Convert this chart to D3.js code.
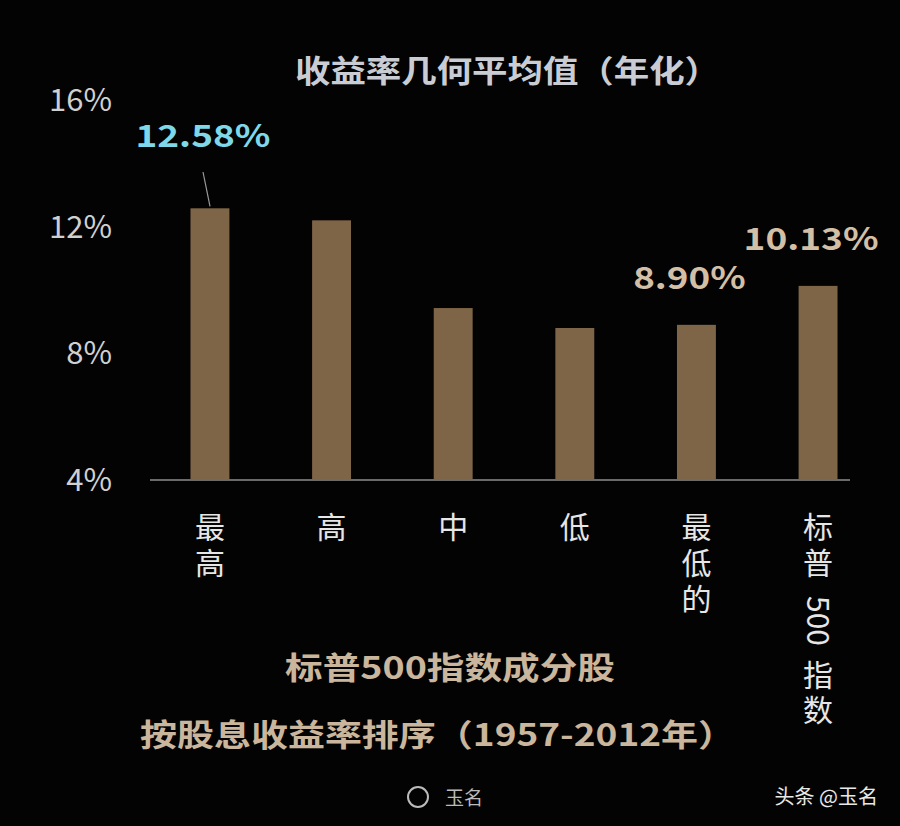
<!DOCTYPE html>
<html><head><meta charset="utf-8">
<script src="https://cdn.jsdelivr.net/npm/d3@7"></script>
<style>body{margin:0;background:#030303;}svg{display:block;}</style>
</head><body>
<svg id="chart" width="900" height="826"></svg>
<script>
var categories = ['最高', '高', '中', '低', '最低的', '标普500指数'];
var values = [12.58, 12.2, 9.43, 8.8, 8.90, 10.13];
var tickValues = [4, 8, 12, 16];
var labels = [{i: 0, text: '12.58%', color: '#7fd8ea'}, {i: 4, text: '8.90%', color: '#d2bfa6'}, {i: 5, text: '10.13%', color: '#d2bfa6'}];

var font = '"Noto Sans CJK SC", "Noto Sans", sans-serif';
var svg = d3.select('#chart');

var x = d3.scaleBand().domain(categories).range([154, 874]).paddingInner(0.68).paddingOuter(0.3);
var y = d3.scaleLinear().domain([4, 16]).range([480, 100]);

function bold(t, x0, y0, w, col) {
  return svg.append('text').attr('x', x0).attr('y', y0)
    .attr('font-family', font).attr('font-weight', 'bold').attr('font-size', 31)
    .attr('textLength', w).attr('lengthAdjust', 'spacingAndGlyphs')
    .attr('fill', col).text(t);
}

bold('收益率几何平均值（年化）', 295, 82, 425, '#c9cdd3');

svg.selectAll('.tick-label').data(tickValues).enter().append('text')
  .attr('x', 112).attr('y', function(d) { return y(d) + 11; })
  .attr('text-anchor', 'end').attr('font-family', font).attr('font-size', 31)
  .attr('fill', '#d0d0d0').text(function(d) { return d + '%'; });

svg.selectAll('.bar').data(values).enter().append('rect')
  .attr('x', function(d, i) { return x(categories[i]); })
  .attr('y', function(d) { return y(d); })
  .attr('width', x.bandwidth())
  .attr('height', function(d) { return y(4) - y(d); })
  .attr('fill', '#7f6547');

svg.append('line').attr('x1', 150).attr('x2', 850).attr('y1', y(4)).attr('y2', y(4))
  .attr('stroke', '#6a6a6a').attr('stroke-width', 2);

categories.forEach(function(c, i) {
  var cx = x(c) + x.bandwidth() / 2;
  var g = svg.append('g').attr('font-family', font).attr('font-size', 30).attr('fill', '#e6e6e6')
    .attr('text-anchor', 'middle');
  if (c === '标普500指数') {
    g.append('text').attr('x', cx).attr('y', 538).text('标');
    g.append('text').attr('x', cx).attr('y', 574).text('普');
    g.append('text').attr('text-anchor', 'start')
      .attr('transform', 'translate(' + (cx - 11) + ',596) rotate(90)').text('500');
    g.append('text').attr('x', cx).attr('y', 686).text('指');
    g.append('text').attr('x', cx).attr('y', 721).text('数');
  } else {
    c.split('').forEach(function(ch, j) {
      g.append('text').attr('x', cx).attr('y', 538 + j * 36).text(ch);
    });
  }
});

labels.forEach(function(l) {
  var cx = x(categories[l.i]) + x.bandwidth() / 2;
  var w = l.text.length * 22.5;
  bold(l.text, cx - 7 - w / 2, y(values[l.i]) - (l.i === 0 ? 61 : 36), w, l.color);
});
svg.append('line').attr('x1', 203).attr('y1', 172).attr('x2', 210).attr('y2', y(values[0]) - 2)
  .attr('stroke', '#9a9a9a').attr('stroke-width', 1.2);

bold('标普500指数成分股', 285, 679, 330, '#c9b69c');
bold('按股息收益率排序（1957-2012年）', 140, 746, 595, '#c9b69c');

svg.append('text').attr('x', 445).attr('y', 805).attr('font-family', font).attr('font-size', 19)
  .attr('fill', '#bbbbbb').text('玉名');
svg.append('circle').attr('cx', 418).attr('cy', 797).attr('r', 10).attr('fill', 'none').attr('stroke', '#bbbbbb').attr('stroke-width', 2);
svg.append('text').attr('x', 878).attr('y', 804).attr('text-anchor', 'end').attr('font-family', font)
  .attr('font-size', 20).attr('fill', '#e8e8e8').text('头条 @玉名');
</script>
</body></html>
